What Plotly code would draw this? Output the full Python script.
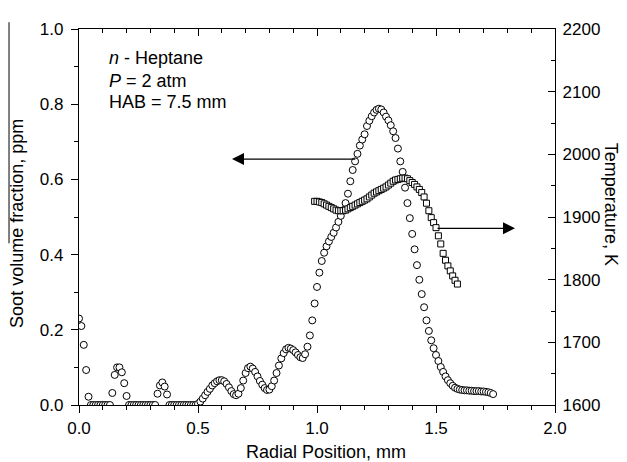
import plotly.graph_objects as go

# Soot volume fraction (ppm) vs radial position (mm)
soot_x = [round(i * 0.01, 2) for i in range(0, 175)]
soot_v = [
    0.23, 0.21, 0.16, 0.093, 0.022,                      # 0.00-0.04
    0, 0, 0, 0, 0, 0, 0, 0, 0,                           # 0.05-0.13
    0.032, 0.08, 0.10, 0.10, 0.087, 0.058, 0.024,        # 0.14-0.20
    0, 0, 0, 0, 0, 0, 0, 0, 0, 0, 0, 0,                  # 0.21-0.32
    0.03, 0.052, 0.06, 0.049, 0.028,                     # 0.33-0.37
    0, 0, 0, 0, 0, 0, 0, 0, 0, 0, 0, 0,                  # 0.38-0.49
    0.003, 0.009, 0.017, 0.026, 0.035, 0.043, 0.052, 0.058, 0.063, 0.066,  # 0.50-0.59
    0.066, 0.063, 0.056, 0.047, 0.037, 0.029, 0.026, 0.030, 0.045, 0.065,  # 0.60-0.69
    0.085, 0.098, 0.102, 0.097, 0.088, 0.076, 0.064, 0.054, 0.045, 0.040,  # 0.70-0.79
    0.041, 0.050, 0.065, 0.085, 0.105, 0.124, 0.138, 0.148, 0.152, 0.150,  # 0.80-0.89
    0.146, 0.140, 0.133, 0.127, 0.125, 0.135, 0.155, 0.185, 0.225, 0.270,  # 0.90-0.99
    0.314, 0.352, 0.383, 0.405, 0.422, 0.435, 0.447, 0.458, 0.472, 0.487,  # 1.00-1.09
    0.503, 0.518, 0.537, 0.562, 0.595, 0.625, 0.648, 0.668, 0.690, 0.706,  # 1.10-1.19
    0.720, 0.742, 0.756, 0.768, 0.778, 0.785, 0.788, 0.786, 0.778, 0.767,  # 1.20-1.29
    0.757, 0.744, 0.728, 0.710, 0.682, 0.648, 0.620, 0.578, 0.537, 0.497,  # 1.30-1.39
    0.455, 0.414, 0.372, 0.333, 0.295, 0.260, 0.225, 0.197, 0.172, 0.151,  # 1.40-1.49
    0.133, 0.117, 0.101, 0.088, 0.076, 0.066, 0.058, 0.051, 0.046, 0.043,  # 1.50-1.59
    0.041, 0.040, 0.039, 0.039, 0.038, 0.038, 0.037, 0.037, 0.037, 0.036,  # 1.60-1.69
    0.036, 0.035, 0.034, 0.032, 0.029,                                     # 1.70-1.74
]

# Temperature (K) vs radial position (mm)
temp_x = [round(0.99 + i * 0.01, 2) for i in range(0, 61)]
temp_T = [
    1925,                                                        # 0.99
    1925, 1924, 1923, 1921, 1919, 1917, 1915, 1913, 1911, 1910,  # 1.00-1.09
    1910, 1910, 1911, 1913, 1915, 1917, 1919, 1921, 1923, 1925,  # 1.10-1.19
    1927, 1929, 1932, 1935, 1938, 1940, 1942, 1944, 1946, 1948,  # 1.20-1.29
    1951, 1954, 1957, 1959, 1960, 1961, 1962, 1962, 1961, 1958,  # 1.30-1.39
    1955, 1952, 1948, 1944, 1939, 1932, 1922, 1910, 1899, 1891,  # 1.40-1.49
    1883, 1870, 1857, 1842, 1831, 1822, 1814, 1806, 1799, 1793,  # 1.50-1.59
]

info_lines = ["<i>n</i> - Heptane", "<i>P</i> = 2 atm", "HAB = 7.5 mm"]

FONT = "Liberation Sans, Arial, Helvetica, sans-serif"
TICK = 17
TXT = 18

fig = go.Figure()
fig.add_trace(go.Scatter(
    x=soot_x, y=soot_v, mode="markers", xaxis="x", yaxis="y",
    marker=dict(symbol="circle", size=7, color="white",
                line=dict(color="black", width=1)),
    showlegend=False,
))
fig.add_trace(go.Scatter(
    x=temp_x, y=temp_T, mode="markers", xaxis="x2", yaxis="y2",
    marker=dict(symbol="square", size=6, color="white",
                line=dict(color="black", width=1)),
    showlegend=False,
))

axis_common = dict(showline=True, linecolor="black", linewidth=1.3,
                   showgrid=False, zeroline=False, tickcolor="black",
                   tickwidth=1.2)

# the page body adds an 8 px offset; margins compensate so the plot area
# sits at x 79..555, y 20..405 in the window
fig.update_layout(
    width=619, height=454,
    margin=dict(l=71, r=72, t=12, b=57),
    paper_bgcolor="white", plot_bgcolor="white",
    font=dict(family=FONT, size=TICK, color="black"),
    xaxis=dict(range=[0, 2], dtick=0.5, tick0=0, tickformat=".1f",
               ticks="outside", ticklen=7,
               minor=dict(ticks="outside", dtick=0.1, ticklen=4,
                          tickcolor="black", tickwidth=1.2),
               tickfont=dict(size=TICK), **axis_common),
    xaxis2=dict(range=[0, 2], dtick=0.5, tick0=0, overlaying="x",
                side="top", anchor="y2", ticks="inside", ticklen=7,
                showticklabels=False,
                minor=dict(ticks="inside", dtick=0.1, ticklen=4,
                           tickcolor="black", tickwidth=1.2),
                **axis_common),
    yaxis=dict(range=[0, 1], dtick=0.2, tick0=0, tickformat=".1f",
               ticks="outside", ticklen=7, ticklabelstandoff=4,
               minor=dict(ticks="outside", dtick=0.1, ticklen=4,
                          tickcolor="black", tickwidth=1.2),
               tickfont=dict(size=TICK), **axis_common),
    yaxis2=dict(range=[1600, 2200], dtick=100, tick0=1600, overlaying="y",
                side="right", anchor="x2", ticks="inside", ticklen=7,
                ticklabelstandoff=3,
                minor=dict(ticks="inside", dtick=50, ticklen=4,
                           tickcolor="black", tickwidth=1.2),
                tickfont=dict(size=TICK), **axis_common),
)

annotations = []
# info text block
for line, yp in zip(info_lines, [0.922, 0.862, 0.805]):
    annotations.append(dict(text=line, xref="paper", yref="paper",
                            x=0.0588, y=yp, xanchor="left", yanchor="middle",
                            showarrow=False, font=dict(size=TXT)))
# axis titles
annotations.append(dict(text="Radial Position, mm", xref="paper", yref="paper",
                        x=0.519, y=0, yshift=-47, xanchor="center", yanchor="middle",
                        showarrow=False, font=dict(size=TXT)))
annotations.append(dict(text="Soot volume fraction, ppm", xref="paper", yref="paper",
                        x=0, y=0.483, xshift=-61.5, xanchor="center", yanchor="middle",
                        textangle=-90, showarrow=False, font=dict(size=TXT)))
annotations.append(dict(text="Temperature, K", xref="paper", yref="paper",
                        x=1, y=0.535, xshift=56, xanchor="center", yanchor="middle",
                        textangle=90, showarrow=False, font=dict(size=TXT)))
# arrows
annotations.append(dict(text="", x=0.643, y=0.654, xref="x", yref="y",
                        ax=1.167, ay=0.654, axref="x", ayref="y",
                        showarrow=True, arrowhead=2, arrowsize=2,
                        arrowwidth=1.2, arrowcolor="black"))
annotations.append(dict(text="", x=1.832, y=1882, xref="x2", yref="y2",
                        ax=1.50, ay=1882, axref="x2", ayref="y2",
                        showarrow=True, arrowhead=2, arrowsize=2,
                        arrowwidth=1.2, arrowcolor="black"))
fig.update_layout(annotations=annotations)

# thin rule at the far left edge, as seen in the source scan
fig.add_shape(type="line", xref="paper", yref="paper",
              x0=-0.147, x1=-0.147, y0=1.018, y1=0.43,
              line=dict(color="black", width=1))

fig.write_html("out.html")
